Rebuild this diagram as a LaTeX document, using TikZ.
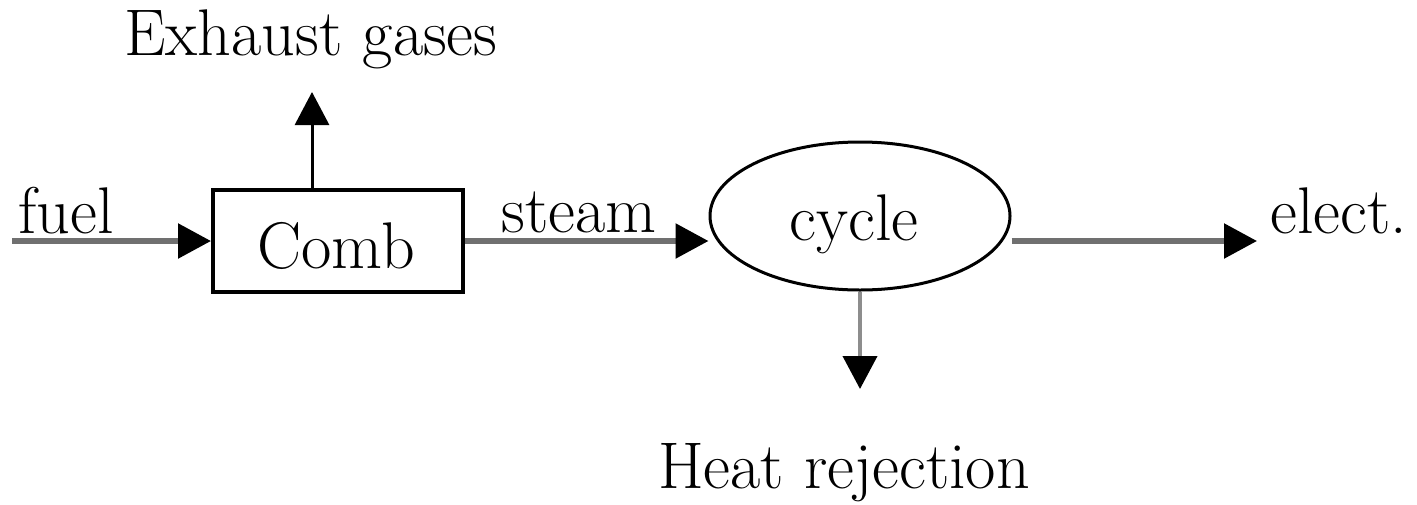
\documentclass[tikz,border=0pt]{standalone}
\usetikzlibrary{arrows.meta,shapes.geometric}
\definecolor{flowgray}{HTML}{707070}
\tikzset{
  x=0.5pt, y=-0.5pt,
  txt/.style={inner sep=0pt, font=\rmfamily\fontsize{33}{40}\selectfont},
  combbox/.style={draw=black, line width=2pt, minimum width=125pt, minimum height=51pt, inner sep=0pt},
  cycbox/.style={ellipse, draw=black, line width=1.5pt, minimum width=150pt, minimum height=74pt, inner sep=0pt},
  tip/.style={-{Triangle[length=16.5pt, width=17pt, color=black]}},
  flow/.style={tip, draw=flowgray, line width=2.8pt},
  thinflow/.style={tip, draw=flowgray!80, line width=2pt},
  exflow/.style={tip, draw=black, line width=1.5pt},
}
\begin{document}
\begin{tikzpicture}
  \useasboundingbox (0,0) rectangle (1417,504);

  % process blocks
  \node[combbox] (comb) at (338,241) {};
  \node[txt, anchor=base] (combtxt) at (336,268) {Comb};
  \node[cycbox] (cyc) at (860,216) {};
  \node[txt, anchor=base] (cyctxt) at (854,240) {cycle};

  % free ends of the streams
  \coordinate (fuelin) at (12,241);
  \coordinate (exout) at (312,92);
  \coordinate (elout) at (1257,241);
  \coordinate (heatout) at (860,389);

  % streams
  \draw[flow] (fuelin) -- (comb.west);
  \draw[flow] (comb.east) -- (comb.east -| cyc.west);
  \draw[flow] (comb.east -| cyc.east) -- (elout);
  \draw[thinflow] (cyc.south) -- (heatout);
  \draw[exflow] (exout |- comb.north) -- (exout);

  % labels
  \node[txt, anchor=base west] (fuel) at (18,233) {fuel};
  \node[txt, anchor=base west] (steam) at (501,232) {steam};
  \node[txt, anchor=base west] (elect) at (1270,233) {elect.};
  \node[txt, anchor=base] (exhaust) at (311,55) {Exhaust gases};
  \node[txt, anchor=base] (heat) at (844,488) {Heat rejection};
\end{tikzpicture}
\end{document}
